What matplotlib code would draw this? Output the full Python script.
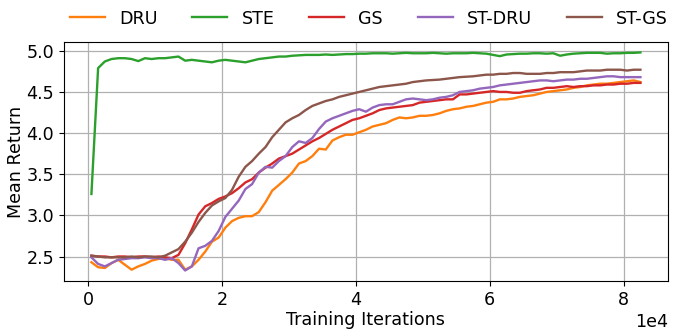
import numpy as np
import matplotlib
matplotlib.use("Agg")
import matplotlib.pyplot as plt

iterations = np.arange(500, 83000, 1000)

ste = [3.26, 4.79, 4.87, 4.90, 4.91, 4.91, 4.90, 4.875, 4.91, 4.90,
       4.91, 4.91, 4.92, 4.93, 4.88, 4.89, 4.88, 4.87, 4.86, 4.88,
       4.89, 4.88, 4.87, 4.86, 4.88, 4.90, 4.91, 4.92, 4.93, 4.93,
       4.94, 4.945, 4.95, 4.95, 4.95, 4.955, 4.95, 4.955, 4.96, 4.96,
       4.965, 4.965, 4.97, 4.97, 4.97, 4.965, 4.97, 4.975, 4.97, 4.97,
       4.97, 4.975, 4.97, 4.965, 4.97, 4.97, 4.97, 4.975, 4.97, 4.965,
       4.95, 4.935, 4.955, 4.96, 4.965, 4.965, 4.97, 4.97, 4.965, 4.97,
       4.94, 4.955, 4.965, 4.97, 4.975, 4.975, 4.975, 4.965, 4.97, 4.97,
       4.975, 4.975, 4.98]

gs = [2.51, 2.50, 2.50, 2.49, 2.50, 2.50, 2.49, 2.50, 2.50, 2.49,
      2.50, 2.49, 2.48, 2.52, 2.66, 2.83, 3.01, 3.11, 3.15, 3.20,
      3.23, 3.27, 3.33, 3.40, 3.44, 3.52, 3.58, 3.63, 3.69, 3.72,
      3.75, 3.80, 3.85, 3.90, 3.94, 3.99, 4.04, 4.08, 4.12, 4.16,
      4.18, 4.21, 4.24, 4.28, 4.30, 4.31, 4.32, 4.33, 4.34, 4.37,
      4.38, 4.39, 4.40, 4.41, 4.41, 4.47, 4.47, 4.48, 4.49, 4.50,
      4.51, 4.50, 4.50, 4.49, 4.49, 4.51, 4.52, 4.53, 4.55, 4.55,
      4.56, 4.57, 4.56, 4.57, 4.57, 4.58, 4.58, 4.59, 4.59, 4.60,
      4.60, 4.61, 4.61]

st_gs = [2.51, 2.50, 2.49, 2.49, 2.49, 2.49, 2.50, 2.49, 2.50, 2.50,
         2.49, 2.51, 2.55, 2.59, 2.68, 2.79, 2.92, 3.03, 3.12, 3.17,
         3.21, 3.31, 3.47, 3.59, 3.66, 3.75, 3.83, 3.95, 4.04, 4.13,
         4.18, 4.22, 4.28, 4.33, 4.36, 4.39, 4.41, 4.44, 4.46, 4.48,
         4.50, 4.52, 4.54, 4.56, 4.57, 4.58, 4.59, 4.60, 4.62, 4.63,
         4.64, 4.645, 4.65, 4.66, 4.67, 4.68, 4.685, 4.69, 4.70, 4.71,
         4.71, 4.72, 4.72, 4.73, 4.73, 4.72, 4.72, 4.72, 4.73, 4.73,
         4.74, 4.74, 4.74, 4.75, 4.76, 4.76, 4.76, 4.77, 4.77, 4.77,
         4.76, 4.77, 4.77]

st_dru = [2.49, 2.41, 2.38, 2.42, 2.46, 2.47, 2.48, 2.48, 2.49, 2.48,
          2.48, 2.46, 2.48, 2.42, 2.33, 2.38, 2.60, 2.63, 2.69, 2.81,
          2.98, 3.08, 3.18, 3.32, 3.38, 3.52, 3.59, 3.58, 3.66, 3.72,
          3.83, 3.90, 3.88, 3.94, 4.05, 4.14, 4.18, 4.21, 4.24, 4.27,
          4.29, 4.26, 4.31, 4.34, 4.35, 4.35, 4.38, 4.41, 4.42, 4.41,
          4.40, 4.41, 4.43, 4.44, 4.46, 4.50, 4.51, 4.52, 4.54, 4.55,
          4.56, 4.58, 4.59, 4.60, 4.61, 4.62, 4.63, 4.64, 4.64, 4.63,
          4.64, 4.65, 4.65, 4.66, 4.66, 4.67, 4.68, 4.69, 4.69, 4.68,
          4.68, 4.68, 4.68]

dru = [2.43, 2.37, 2.36, 2.42, 2.46, 2.40, 2.34, 2.38, 2.41, 2.45,
       2.47, 2.48, 2.46, 2.46, 2.34, 2.38, 2.46, 2.56, 2.68, 2.73,
       2.85, 2.93, 2.97, 2.99, 2.99, 3.04, 3.16, 3.30, 3.37, 3.44,
       3.52, 3.63, 3.66, 3.72, 3.81, 3.80, 3.91, 3.95, 3.98, 3.98,
       4.01, 4.04, 4.08, 4.10, 4.12, 4.16, 4.19, 4.18, 4.19, 4.21,
       4.21, 4.22, 4.24, 4.27, 4.29, 4.30, 4.32, 4.33, 4.35, 4.37,
       4.38, 4.41, 4.41, 4.42, 4.44, 4.45, 4.46, 4.48, 4.50, 4.51,
       4.52, 4.53, 4.55, 4.56, 4.58, 4.59, 4.60, 4.60, 4.61, 4.62,
       4.63, 4.64, 4.62]

labels = ["DRU", "STE", "GS", "ST-DRU", "ST-GS"]
colors = ["#ff7f0e", "#2ca02c", "#d62728", "#9467bd", "#8c564b"]
series = [dru, ste, gs, st_dru, st_gs]

FS = 12.6
fig = plt.figure(figsize=(6.77, 3.35), dpi=100)
ax = fig.add_axes([0.0945, 0.160, 0.892, 0.716])

for y, lab, c in zip(series, labels, colors):
    ax.plot(iterations, y, color=c, lw=1.7, label=lab)

ax.grid(True, color="#b0b0b0", lw=0.9)
ax.set_axisbelow(True)
ax.ticklabel_format(style="sci", axis="x", scilimits=(0, 0))
ax.tick_params(labelsize=FS)
ax.xaxis.get_offset_text().set_fontsize(FS)
ax.set_xlabel("Training Iterations", fontsize=FS, labelpad=1)
ax.set_ylabel("Mean Return", fontsize=FS, labelpad=1)
ax.set_yticks([2.5, 3.0, 3.5, 4.0, 4.5, 5.0])

ax.legend(loc="lower center", bbox_to_anchor=(0.505, 1.0), ncol=5,
          frameon=False, fontsize=FS, borderaxespad=0.4)

fig.savefig("out.png", dpi=100)
